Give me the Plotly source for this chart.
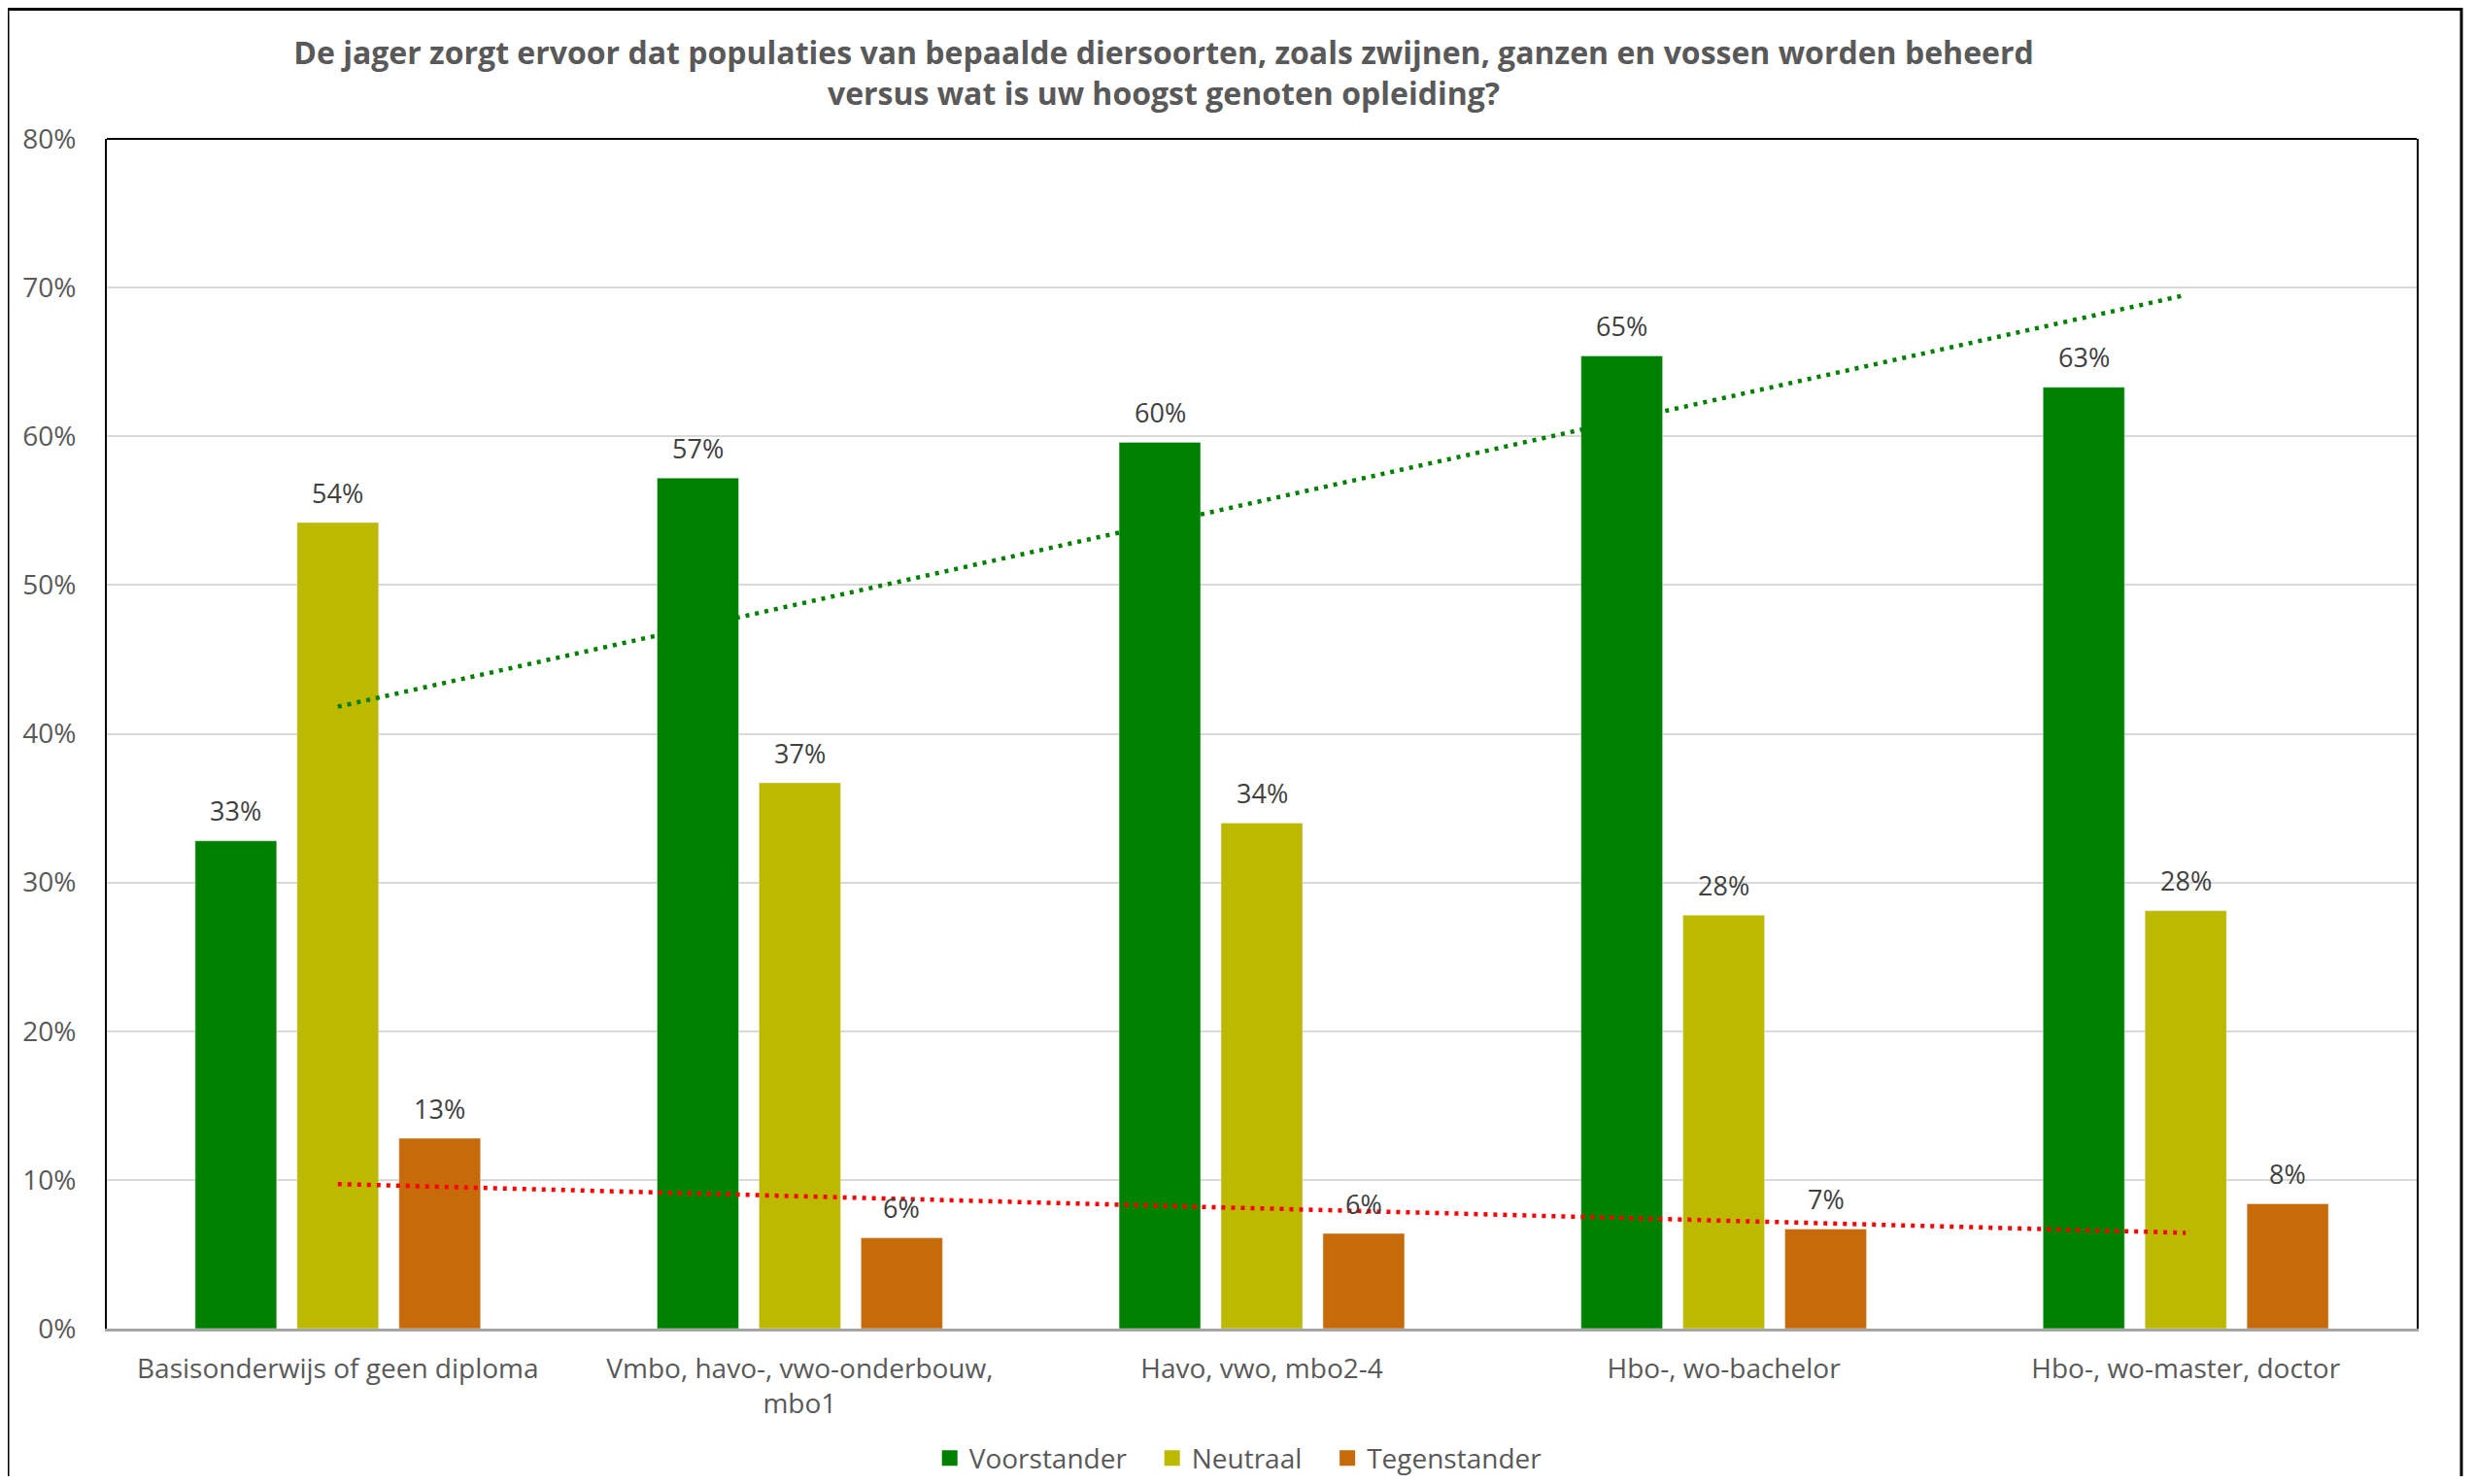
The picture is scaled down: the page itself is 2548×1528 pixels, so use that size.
import numpy as np
import plotly.graph_objects as go

# ---------------- data ----------------
categories = [
    "Basisonderwijs of geen diploma",
    "Vmbo, havo-, vwo-onderbouw, mbo1",
    "Havo, vwo, mbo2-4",
    "Hbo-, wo-bachelor",
    "Hbo-, wo-master, doctor",
]
tick_labels = [
    "Basisonderwijs of geen diploma",
    "Vmbo, havo-, vwo-onderbouw,<br>mbo1",
    "Havo, vwo, mbo2-4",
    "Hbo-, wo-bachelor",
    "Hbo-, wo-master, doctor",
]
series_names = ["Voorstander", "Neutraal", "Tegenstander"]
voorstander = [0.328, 0.572, 0.596, 0.654, 0.633]
neutraal = [0.542, 0.367, 0.340, 0.278, 0.281]
tegenstander = [0.128, 0.061, 0.064, 0.067, 0.084]
y_tick_values = [0.0, 0.1, 0.2, 0.3, 0.4, 0.5, 0.6, 0.7, 0.8]

title_text = ("De jager zorgt ervoor dat populaties van bepaalde diersoorten, zoals zwijnen, ganzen en vossen worden beheerd"
              "<br>versus wat is uw hoogst genoten opleiding?")

# ---------------- styles ----------------
colors = ["#008000", "#BDB900", "#C66A0A"]
FONT = "Open Sans"
GREY = "#595959"

# page body has an 8px margin: the figure is drawn at (8, 8)
OFF = 8
W, H = 2548 - OFF, 1528 - 2 * OFF
ML, MR, MT = 110 - OFF, 60, 143 - OFF
MB = H - (1368 - OFF)
BARGAP = 0.338

fig = go.Figure()
series_values = [voorstander, neutraal, tegenstander]
for name, vals, col in zip(series_names, series_values, colors):
    fig.add_trace(go.Bar(x=categories, y=vals, name=name, marker_color=col,
                         showlegend=False, hoverinfo="x+y"))

# legend-only entries (bigger squares)
legend_names = ["Voorstander\u00a0\u00a0\u00a0", "Neutraal\u00a0\u00a0\u00a0", "Tegenstander"]
for name, col in zip(legend_names, colors):
    fig.add_trace(go.Scatter(x=[None], y=[None], mode="markers", name=name,
                             marker=dict(symbol="square", size=16, color=col)))

# linear trendlines (Excel-style) for Voorstander and Tegenstander
idx = np.arange(len(categories))
for vals, col in [(voorstander, "#008000"), (tegenstander, "#FF0000")]:
    slope, intercept = np.polyfit(idx, vals, 1)
    fit = slope * idx + intercept
    fig.add_trace(go.Scatter(x=categories, y=fit, mode="lines", showlegend=False,
                             line=dict(color=col, width=4.5, dash="4px,6px"),
                             hoverinfo="skip"))

# data labels
plot_w = W - ML - MR
plot_h = H - MT - MB
slot = plot_w / len(categories) * (1 - BARGAP) / 3
for s, vals in enumerate(series_values):
    for c, v in zip(categories, vals):
        fig.add_annotation(x=c, y=v, xref="x", yref="y", text=f"{round(v*100):.0f}%",
                           showarrow=False, xshift=(s - 1) * slot, yshift=31,
                           yanchor="middle", font=dict(family=FONT, size=27, color="#404040"))

# top border of plot area
fig.add_shape(type="line", xref="paper", yref="paper", x0=0, x1=1, y0=1, y1=1,
              line=dict(color="black", width=2))
# outer chart frame
fig.add_shape(type="rect", xref="paper", yref="paper",
              x0=(8 - 110) / plot_w, x1=(2534 - 110) / plot_w,
              y0=-0.3, y1=(1368 - 9.5) / plot_h,
              line=dict(color="black", width=3), fillcolor="rgba(0,0,0,0)")

fig.update_layout(
    width=W, height=H,
    margin=dict(l=ML, r=MR, t=MT, b=MB, autoexpand=False),
    paper_bgcolor="white", plot_bgcolor="white",
    barmode="group", bargap=BARGAP, bargroupgap=0.2,
    font=dict(family=FONT, color=GREY),
    title=dict(text=title_text, x=(1198 - 110) / plot_w, xref="paper", xanchor="center",
               y=1 - 58 / H, yref="container", yanchor="middle",
               font=dict(family=FONT, size=32, color=GREY, weight="bold")),
    legend=dict(orientation="h", x=0.49, xanchor="center", y=-0.109, yanchor="middle",
                font=dict(family=FONT, size=28, color=GREY), bgcolor="rgba(0,0,0,0)"),
    xaxis=dict(type="category", tickmode="array", tickvals=categories, ticktext=tick_labels,
               tickfont=dict(family=FONT, size=28, color=GREY),
               showline=True, linecolor="#A6A6A6", linewidth=3, ticks="",
               showgrid=False, ticklabelstandoff=14),
    yaxis=dict(range=[0, 0.8], tickmode="array", tickvals=y_tick_values, tickformat=".0%",
               tickfont=dict(family=FONT, size=28, color=GREY),
               showgrid=True, gridcolor="#D9D9D9", gridwidth=2,
               showline=True, mirror=True, linecolor="black", linewidth=2,
               zeroline=False, ticks="", ticklabelstandoff=24),
)

fig.write_html("out.html")
